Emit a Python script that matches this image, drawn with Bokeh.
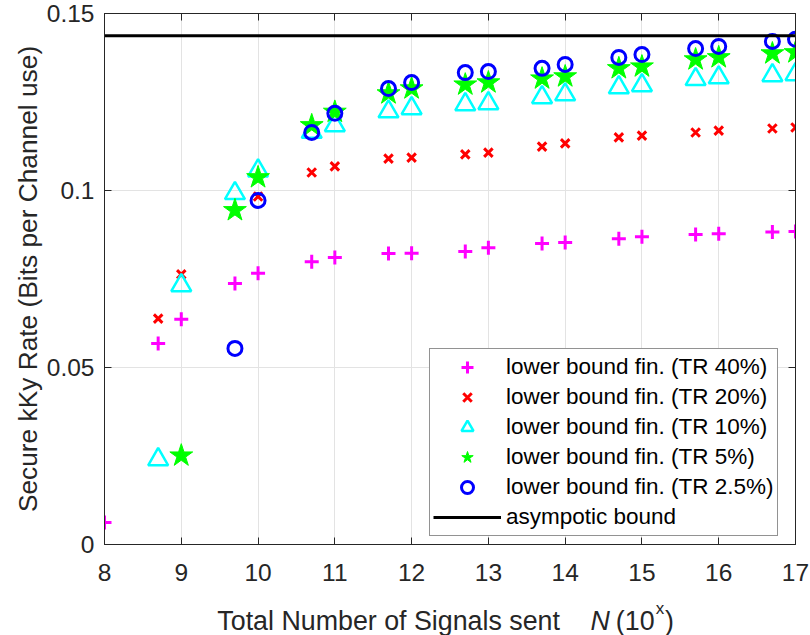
from bokeh.plotting import figure
from bokeh.layouts import column
from bokeh.models import Range1d, FixedTicker, LinearAxis, Legend, LegendItem
from bokeh.core.properties import value
from bokeh.embed import file_html
from bokeh.resources import INLINE

# ---------------- data ----------------
x_all = [8, 8.699, 9, 9.699, 10, 10.699, 11, 11.699, 12, 12.699, 13,
         13.699, 14, 14.699, 15, 15.699, 16, 16.699, 17]

tr40_x = x_all
tr40_y = [0.0062, 0.0568, 0.0636, 0.0737, 0.0766, 0.0799, 0.0811, 0.0822, 0.0823,
          0.0828, 0.0838, 0.0850, 0.0853, 0.0864, 0.0869, 0.0876, 0.0878, 0.0883, 0.0884]
tr20_x = x_all[1:]
tr20_y = [0.0638, 0.0763, 0.0941, 0.0983, 0.1051, 0.1068, 0.1090, 0.1093, 0.1102,
          0.1107, 0.1124, 0.1133, 0.1150, 0.1155, 0.1164, 0.1169, 0.1175, 0.1178]
tr10_x = x_all[1:]
tr10_y = [0.0240, 0.0732, 0.0992, 0.1056, 0.1165, 0.1184, 0.1223, 0.1232, 0.1243,
          0.1246, 0.1263, 0.1271, 0.1291, 0.1297, 0.1314, 0.1319, 0.1325, 0.1328]
tr5_x = x_all[2:]
tr5_y = [0.0251, 0.0944, 0.1037, 0.1184, 0.1222, 0.1274, 0.1288, 0.1299, 0.1305,
         0.1316, 0.1322, 0.1345, 0.1350, 0.1370, 0.1376, 0.1387, 0.1390]
tr25_x = x_all[3:]
tr25_y = [0.0554, 0.0972, 0.1164, 0.1218, 0.1288, 0.1305, 0.1333, 0.1336, 0.1345,
          0.1356, 0.1376, 0.1384, 0.1401, 0.1407, 0.1421, 0.1427]
asym_x = [8, 17]
asym_y = [0.1437, 0.1437]

x_ticks = [8, 9, 10, 11, 12, 13, 14, 15, 16, 17]
y_ticks = [0, 0.05, 0.1, 0.15]
y_tick_labels = ["0", "0.05", "0.1", "0.15"]

series_labels = ["lower bound fin. (TR 40%)", "lower bound fin. (TR 20%)",
                 "lower bound fin. (TR 10%)", "lower bound fin. (TR 5%)",
                 "lower bound fin. (TR 2.5%)", "asympotic bound"]
y_label = "Secure kKy Rate (Bits per Channel use)"
x_label_parts = ["Total Number of Signals sent", "N", "(10", "x", ")"]

# ---------------- main figure ----------------
FONT = "Liberation Sans"
AX = "#262626"

p = figure(width=810, height=595, output_backend="svg", toolbar_location=None,
           x_range=Range1d(8, 17), y_range=Range1d(0, 0.15),
           min_border_left=104, min_border_right=15, min_border_top=13,
           min_border_bottom=51, background_fill_color="white",
           border_fill_color="white", outline_line_color=AX)

for ax in (p.xaxis[0], p.yaxis[0]):
    ax.major_tick_in = 7
    ax.major_tick_out = 0
    ax.minor_tick_line_color = None
    ax.axis_line_color = AX
    ax.major_tick_line_color = AX
    ax.major_label_text_font = FONT
    ax.major_label_text_font_size = "24.5px"
    ax.major_label_text_color = AX
    ax.axis_label_text_font = FONT
    ax.axis_label_text_font_style = "normal"
    ax.axis_label_text_color = AX

p.xaxis.ticker = FixedTicker(ticks=x_ticks)
p.xaxis.major_label_standoff = 19
p.yaxis.ticker = FixedTicker(ticks=y_ticks)
p.yaxis.major_label_overrides = {t: s for t, s in zip(y_ticks, y_tick_labels)}
p.yaxis.major_label_standoff = 10
p.yaxis.axis_label = y_label
p.yaxis.axis_label_text_font_size = "26.3px"
p.yaxis.axis_label_standoff = 1

p.xgrid.ticker = FixedTicker(ticks=x_ticks)
p.ygrid.ticker = FixedTicker(ticks=y_ticks)
for g in (p.xgrid, p.ygrid):
    g.grid_line_color = "#e3e3e3"
    g.grid_line_width = 1

# tick marks on the top and right sides (no labels)
top = LinearAxis(ticker=FixedTicker(ticks=x_ticks),
                 major_label_overrides={t: "" for t in x_ticks},
                 major_label_text_font_size="0px", major_label_standoff=0,
                 major_tick_in=7, major_tick_out=0, minor_tick_line_color=None,
                 axis_line_color=AX, major_tick_line_color=AX)
right = LinearAxis(ticker=FixedTicker(ticks=y_ticks),
                   major_label_overrides={t: "" for t in y_ticks},
                   major_label_text_font_size="0px", major_label_standoff=0,
                   major_tick_in=7, major_tick_out=0, minor_tick_line_color=None,
                   axis_line_color=AX, major_tick_line_color=AX)
p.add_layout(top, "above")
p.add_layout(right, "right")

# ---------------- glyphs ----------------
r40 = p.scatter(tr40_x, tr40_y, marker="cross", size=14, line_color="#ff00ff", line_width=3)
r20 = p.scatter(tr20_x, tr20_y, marker="x", size=12, line_color="#ff0000", line_width=3)
r10 = p.scatter(tr10_x, tr10_y, marker="triangle", size=20, line_color="#00ffff",
                fill_color=None, line_width=2.5)
r5 = p.scatter(tr5_x, tr5_y, marker="star", size=24, line_color="#00ff00",
               fill_color="#00ff00", line_width=1)
r25 = p.scatter(tr25_x, tr25_y, marker="circle", size=14, line_color="#0000ff",
                fill_color=None, line_width=3)
rA = p.line(asym_x, asym_y, line_color="black", line_width=3)

legend = Legend(items=[LegendItem(label=l, renderers=[r])
                       for l, r in zip(series_labels, [r40, r20, r10, r5, r25, rA])],
                location=(325, 8), margin=0, padding=3, spacing=0,
                label_height=30, glyph_height=30, glyph_width=68, label_standoff=5,
                label_text_font=FONT, label_text_font_size="22.5px", label_text_color="black",
                border_line_color=AX, border_line_width=1, background_fill_color="white",
                background_fill_alpha=1)
p.add_layout(legend)

# ---------------- x-axis title strip (same x scale) ----------------
p2 = figure(width=810, height=40, output_backend="svg", toolbar_location=None,
            x_range=p.x_range, y_range=Range1d(0, 40),
            x_axis_type=None, y_axis_type=None,
            min_border_left=104, min_border_right=15, min_border_top=0,
            min_border_bottom=0, outline_line_color=None,
            background_fill_color="white", border_fill_color="white")
p2.grid.visible = False

p2.text(x=[9.47], y=[15], text=[x_label_parts[0]], text_font=value(FONT),
        text_font_size=value("26.8px"), text_color=AX, text_baseline="alphabetic")
p2.text(x=[14.33], y=[15], text=[x_label_parts[1]], text_font=value(FONT),
        text_font_size=value("26.8px"), text_font_style="italic", text_color=AX,
        text_baseline="alphabetic")
p2.text(x=[14.66], y=[15], text=[x_label_parts[2]], text_font=value(FONT),
        text_font_size=value("26.8px"), text_color=AX, text_baseline="alphabetic")
p2.text(x=[15.18], y=[27], text=[x_label_parts[3]], text_font=value(FONT),
        text_font_size=value("17px"), text_color=AX, text_baseline="alphabetic")
p2.text(x=[15.30], y=[15], text=[x_label_parts[4]], text_font=value(FONT),
        text_font_size=value("26.8px"), text_color=AX, text_baseline="alphabetic")

layout = column(p, p2, spacing=0)
open("out.html", "w").write(file_html(layout, INLINE))
